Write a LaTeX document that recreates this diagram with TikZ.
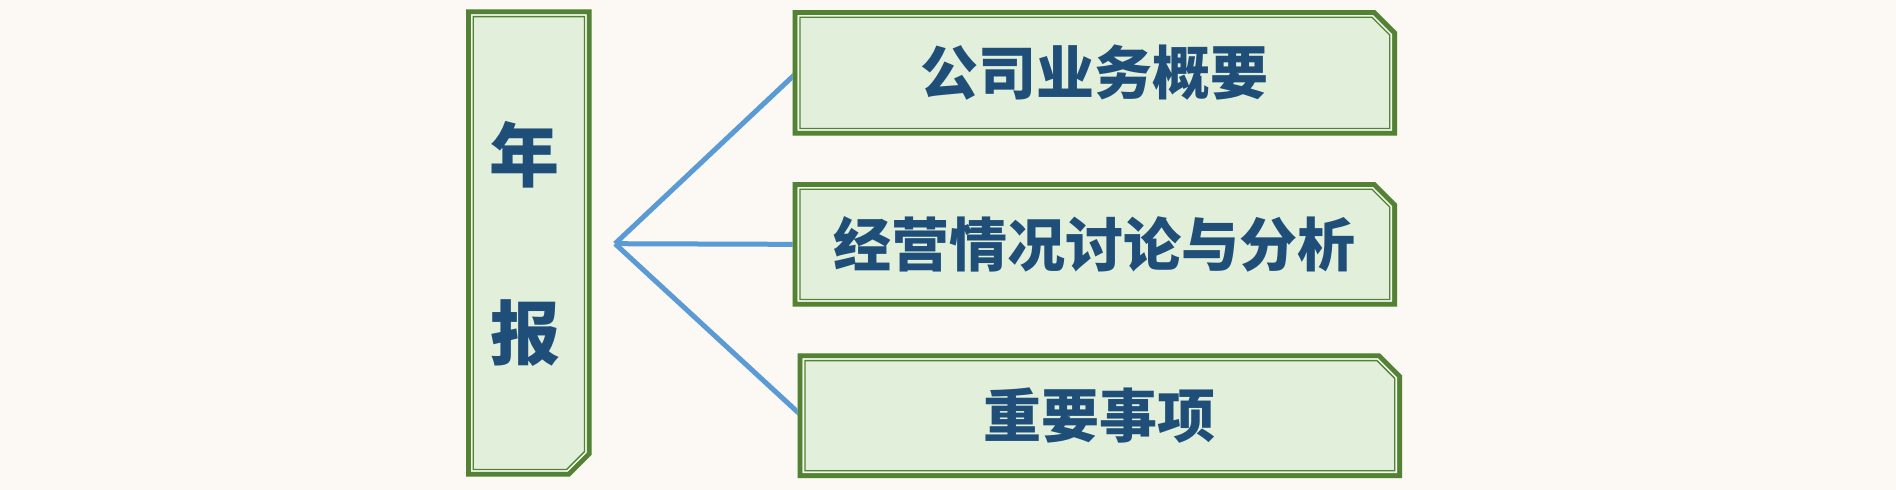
\documentclass[tikz,border=0pt]{standalone}
\usepackage{fontspec}
\newfontfamily\cjk{Noto Sans CJK SC}
\definecolor{bgc}{HTML}{FCF8F3}
\definecolor{boxfill}{HTML}{E2EFDA}
\definecolor{bord}{HTML}{548235}
\definecolor{lightline}{HTML}{F2F8EE}
\definecolor{txtc}{HTML}{1F4E79}
\definecolor{linec}{HTML}{5B9BD5}
\pgfdeclarelayer{back}
\pgfdeclarelayer{mid}
\pgfsetlayers{back,mid,main}
% frame with top-right cut: x1 y1 x2 y2 c
\newcommand\frameTR[5]{%
  \fill[boxfill] (#1,#2) -- (#3-#5,#2) -- (#3,#2+#5) -- (#3,#4) -- (#1,#4) -- cycle;
  \foreach \d/\w/\c in {2.5/5/bord,5.8/1.6/lightline,7.3/1.3/bord}{%
    \draw[line width=\w pt,draw=\c] (#1+\d,#2+\d) -- (#3-#5-0.414*\d,#2+\d) -- (#3-\d,#2+#5+0.414*\d) -- (#3-\d,#4-\d) -- (#1+\d,#4-\d) -- cycle;}%
}
% frame with bottom-right cut
\newcommand\frameBR[5]{%
  \fill[boxfill] (#1,#2) -- (#3,#2) -- (#3,#4-#5) -- (#3-#5,#4) -- (#1,#4) -- cycle;
  \foreach \d/\w/\c in {2.5/5/bord,5.8/1.6/lightline,7.3/1.3/bord}{%
    \draw[line width=\w pt,draw=\c] (#1+\d,#2+\d) -- (#3-\d,#2+\d) -- (#3-\d,#4-#5-0.414*\d) -- (#3-#5-0.414*\d,#4-\d) -- (#1+\d,#4-\d) -- cycle;}%
}
\tikzset{
  boxnode/.style={rectangle, draw=none, inner sep=0pt, font=\cjk\bfseries\fontsize{58}{60}\selectfont, text=txtc},
  bigchar/.style={inner sep=0pt, font=\cjk\bfseries\fontsize{70}{72}\selectfont, text=txtc},
  conn/.style={draw=linec, line width=5pt}
}
\begin{document}
\begin{tikzpicture}[x=1pt,y=-1pt]
\useasboundingbox (0,0) rectangle (1896,490);
\begin{pgfonlayer}{back}
\fill[bgc] (0,0) rectangle (1896,490);
\end{pgfonlayer}
% frames
\frameBR{466}{9.3}{591.7}{476.7}{22}
\frameTR{792.7}{10}{1397}{135.7}{22}
\frameTR{792.7}{182}{1397}{306.7}{22}
\frameTR{797.7}{353.3}{1402}{478}{22}
% nodes
\node[boxnode, minimum width=125.7pt, minimum height=467.4pt] (nb) at (528.85,243) {};
\node[bigchar] (c1) at (524.5,155) {年};
\node[bigchar] (c2) at (525,333) {报};
\node[boxnode, minimum width=604.3pt, minimum height=125.7pt] (top) at (1094.85,72.85) {公司业务概要};
\node[boxnode, minimum width=604.3pt, minimum height=124.7pt] (mid) at (1094.85,244.35) {经营情况讨论与分析};
\node[boxnode, minimum width=604.3pt, minimum height=124.7pt] (bot) at (1099.85,415.65) {重要事项};
\coordinate (j) at (615,243.7);
\begin{pgfonlayer}{mid}
\draw[conn] (j) -- ([xshift=4pt]top.west);
\draw[conn] (j) -- ([xshift=4pt]mid.west);
\draw[conn] (j) -- ([xshift=4pt]bot.west);
\end{pgfonlayer}
\end{tikzpicture}
\end{document}
